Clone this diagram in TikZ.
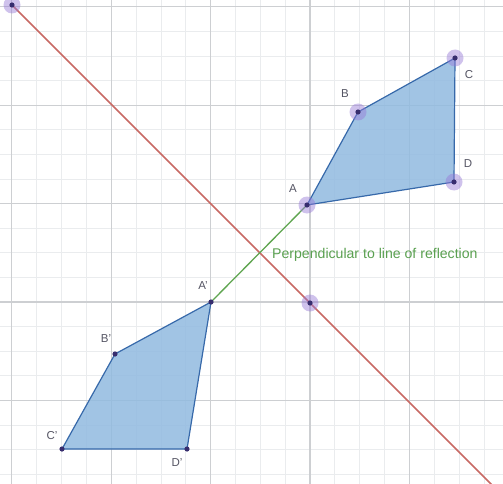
\documentclass[tikz,border=0pt]{standalone}
\usepackage{fontspec}
\setmainfont{Liberation Sans}
\definecolor{gridminor}{RGB}{234,236,238}
\definecolor{gridmajor}{RGB}{205,207,210}
\definecolor{polyfill}{RGB}{145,186,224}
\definecolor{polyedge}{RGB}{55,105,170}
\definecolor{refline}{RGB}{200,105,100}
\definecolor{perpline}{RGB}{95,165,80}
\definecolor{perptext}{RGB}{90,160,80}
\definecolor{halo}{RGB}{150,120,215}
\definecolor{dotc}{RGB}{55,45,110}
\definecolor{lbl}{RGB}{85,85,100}
\tikzset{
  minorline/.style={draw=gridminor, line width=0.8pt},
  majorline/.style={draw=gridmajor, line width=1.1pt},
  shapefill/.style={fill=polyfill, fill opacity=0.85},
  shapeedge/.style={draw=polyedge, line width=1.2pt, line join=round},
  haloc/.style={fill=halo, fill opacity=0.45},
  dotstyle/.style={fill=dotc},
  ptlabel/.style={text=lbl, font=\fontsize{11.5}{13}\selectfont, inner sep=0pt},
}
\begin{document}
\begin{tikzpicture}[x=1pt,y=-1pt]
\useasboundingbox (0,0) rectangle (503,484);
\fill[white] (0,0) rectangle (503,484);
% grid
\begin{scope}
\clip (0,0) rectangle (503,484);
\foreach \i in {-13,...,8} {
  \draw[minorline] ({310+\i*24.85},0) -- ({310+\i*24.85},484);
}
\foreach \j in {-13,...,8} {
  \draw[minorline] (0,{302+\j*24.6}) -- (503,{302+\j*24.6});
}
\foreach \i in {-3,...,2} {
  \draw[majorline] ({310+\i*99.4},0) -- ({310+\i*99.4},484);
}
\foreach \j in {-3,...,2} {
  \draw[majorline] (0,{302+\j*98.4}) -- (503,{302+\j*98.4});
}
\end{scope}
% points
\coordinate (A) at (307,205);
\coordinate (B) at (358,112);
\coordinate (C) at (455,58);
\coordinate (D) at (454,182);
\coordinate (A') at (211,302);
\coordinate (B') at (115,354);
\coordinate (C') at (62,449);
\coordinate (D') at (187,449);
\coordinate (O) at (310,303);
\coordinate (R1) at (12,5);
\coordinate (R2) at (493,486);
% polygons
\fill[shapefill] (A) -- (B) -- (C) -- (D) -- cycle;
\fill[shapefill] (A') -- (B') -- (C') -- (D') -- cycle;
% lines
\begin{scope}
\clip (0,0) rectangle (503,484);
\draw[refline, line width=1.6pt] (R1) -- (O) -- (R2);
\end{scope}
\draw[perpline, line width=1.3pt] (A) -- (A');
\draw[shapeedge] (A) -- (B) -- (C) -- (D) -- cycle;
\draw[shapeedge] (A') -- (B') -- (C') -- (D') -- cycle;
% halos
\foreach \p in {A,B,C,D,O,R1} {
  \fill[haloc] (\p) circle (8.5);
}
\foreach \p in {A,B,C,D,O,R1,A',B',C',D'} {
  \fill[dotstyle] (\p) circle (2.6);
}
% labels
\node[ptlabel] (lA) at (293,189) {A};
\node[ptlabel] (lB) at (345,94) {B};
\node[ptlabel] (lC) at (469,75) {C};
\node[ptlabel] (lD) at (468,164) {D};
\node[ptlabel] (lA') at (203,286) {A'};
\node[ptlabel] (lB') at (106,339) {B'};
\node[ptlabel] (lC') at (52,436) {C'};
\node[ptlabel] (lD') at (177,463) {D'};
\node[text=perptext, font=\fontsize{14.1}{16}\selectfont, inner sep=0pt, anchor=west] (perp) at (272,255) {Perpendicular to line of reflection};
\end{tikzpicture}
\end{document}
